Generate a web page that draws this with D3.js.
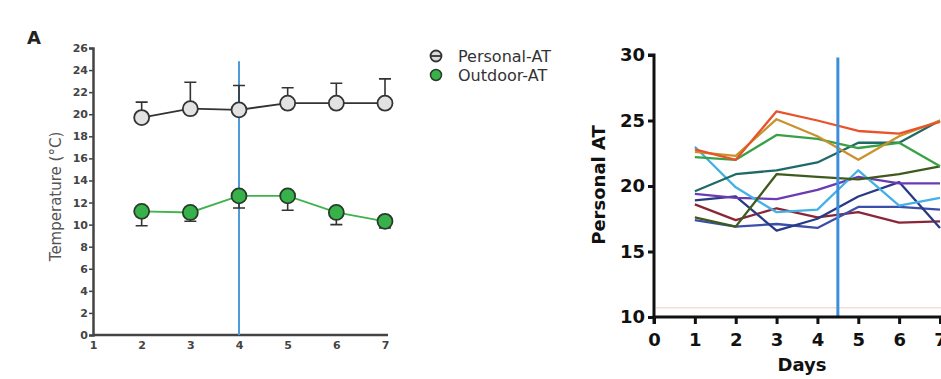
<!DOCTYPE html>
<html>
<head>
<meta charset="utf-8">
<script src="https://cdn.jsdelivr.net/npm/d3@7"></script>
<style>
  body { margin: 0; background: #fff; }
  svg { display: block; }
</style>
</head>
<body>
<div id="wrapper"></div>
<script>

/* 1. Data */
// panel A: daily means with one-sided error bars
const leftDays = [2, 3, 4, 5, 6, 7]
const personalMean = [19.7, 20.5, 20.4, 21.0, 21.0, 21.0]
const personalUpper = [21.1, 22.9, 22.6, 22.4, 22.8, 23.2]
const outdoorMean = [11.2, 11.1, 12.6, 12.6, 11.1, 10.3]
const outdoorLower = [9.9, 10.3, 11.5, 11.3, 10.0, 9.7]
const leftXTicks = [1, 2, 3, 4, 5, 6, 7]
const leftYTicks = [0, 2, 4, 6, 8, 10, 12, 14, 16, 18, 20, 22, 24, 26]
const legendLabels = ["Personal-AT", "Outdoor-AT"]

// right panel: personal AT per participant
const rightDays = [1, 2, 3, 4, 5, 6, 7]
const redLine    = [22.8, 22.0, 25.7, 25.0, 24.2, 24.0, 24.9]
const goldLine   = [22.6, 22.3, 25.1, 23.8, 22.0, 23.8, 25.0]
const greenLine  = [22.2, 22.0, 23.9, 23.6, 22.9, 23.3, 21.5]
const tealLine   = [19.6, 20.9, 21.2, 21.8, 23.3, 23.3, 25.0]
const oliveLine  = [17.6, 16.9, 20.9, 20.7, 20.5, 20.9, 21.5]
const skyLine    = [23.0, 19.9, 18.0, 18.2, 21.2, 18.5, 19.1]
const purpleLine = [19.4, 19.1, 19.0, 19.7, 20.7, 20.2, 20.2]
const navyLine   = [18.9, 19.2, 16.6, 17.5, 19.2, 20.3, 16.8]
const indigoLine = [17.4, 16.9, 17.1, 16.8, 18.4, 18.4, 18.2]
const maroonLine = [18.6, 17.4, 18.3, 17.6, 18.0, 17.2, 17.3]
const rightXTicks = [0, 1, 2, 3, 4, 5, 6, 7]
const rightYTicks = [10, 15, 20, 25, 30]

const participantSeries = [maroonLine, indigoLine, navyLine, purpleLine, skyLine,
    oliveLine, tealLine, greenLine, goldLine, redLine]
const participantColors = ["#8b2638", "#3b4fa8", "#283a86", "#6a3bb5", "#45b0e6",
    "#3f5a1c", "#1f6a66", "#3aa046", "#c9922c", "#e8532b"]

/* 2. Dimensions */
const width = 941
const height = 379

const wrapper = d3.select("#wrapper")
    .append("svg")
    .attr("width", width)
    .attr("height", height)

/* 3. Panel A */
const left = { x0: 93, x1: 385, y0: 335, y1: 48 }

const xLeft = d3.scaleLinear().domain([1, 7]).range([left.x0, left.x1])
const yLeft = d3.scaleLinear().domain([0, 26]).range([left.y0, left.y1])

wrapper.append("text")
    .attr("x", 27)
    .attr("y", 44)
    .style("font-family", "DejaVu Sans")
    .style("font-weight", "bold")
    .style("font-size", "18px")
    .attr("fill", "#222")
    .text("A")

const leftYAxis = wrapper.append("g")
    .attr("transform", `translate(${left.x0},0)`)
    .call(d3.axisLeft(yLeft).tickValues(leftYTicks).tickFormat(d3.format("d"))
        .tickSize(4).tickPadding(1))
const leftXAxis = wrapper.append("g")
    .attr("transform", `translate(0,${left.y0})`)
    .call(d3.axisBottom(xLeft).tickValues(leftXTicks).tickFormat(d3.format("d"))
        .tickSize(0).tickPadding(6))

;[leftYAxis, leftXAxis].forEach(ax => {
    ax.select(".domain").attr("stroke", "#444").attr("stroke-width", 2.5)
    ax.selectAll(".tick line").attr("stroke", "#444").attr("stroke-width", 1.5)
    ax.selectAll("text")
        .style("font-family", "DejaVu Sans")
        .style("font-weight", "bold")
        .style("font-size", "11px")
        .attr("fill", "#444")
})
leftXAxis.select(".domain").attr("d", `M${left.x0},0H${left.x1 + 3}`)

wrapper.append("text")
    .attr("transform", `translate(61,${(left.y0 + left.y1) / 2 + 5}) rotate(-90)`)
    .attr("text-anchor", "middle")
    .style("font-family", "DejaVu Sans")
    .style("font-size", "15px")
    .attr("fill", "#555")
    .text("Temperature (°C)")

// blue reference line at day 4
wrapper.append("line")
    .attr("x1", xLeft(4)).attr("x2", xLeft(4))
    .attr("y1", yLeft(24.8)).attr("y2", yLeft(0))
    .attr("stroke", "#4d9bdb")
    .attr("stroke-width", 2)

const leftData = leftDays.map((d, i) => ({
    day: d,
    pMean: personalMean[i], pUp: personalUpper[i],
    oMean: outdoorMean[i], oLow: outdoorLower[i],
}))

const capHalf = 6

// error bars
const errGroup = wrapper.append("g")
    .attr("stroke", "#333")
    .attr("stroke-width", 1.6)
errGroup.selectAll(".pErr")
    .data(leftData)
    .enter().append("path")
    .attr("fill", "none")
    .attr("d", d => `M${xLeft(d.day)},${yLeft(d.pMean)}V${yLeft(d.pUp)}`
        + `M${xLeft(d.day) - capHalf},${yLeft(d.pUp)}H${xLeft(d.day) + capHalf}`)
errGroup.selectAll(".oErr")
    .data(leftData)
    .enter().append("path")
    .attr("fill", "none")
    .attr("d", d => `M${xLeft(d.day)},${yLeft(d.oMean)}V${yLeft(d.oLow)}`
        + `M${xLeft(d.day) - capHalf},${yLeft(d.oLow)}H${xLeft(d.day) + capHalf}`)

const pLine = d3.line().x(d => xLeft(d.day)).y(d => yLeft(d.pMean))
const oLine = d3.line().x(d => xLeft(d.day)).y(d => yLeft(d.oMean))

wrapper.append("path")
    .datum(leftData)
    .attr("d", pLine)
    .attr("fill", "none")
    .attr("stroke", "#333")
    .attr("stroke-width", 1.8)
wrapper.append("path")
    .datum(leftData)
    .attr("d", oLine)
    .attr("fill", "none")
    .attr("stroke", "#3fb34c")
    .attr("stroke-width", 1.8)

wrapper.selectAll(".pDot")
    .data(leftData)
    .enter().append("circle")
    .attr("cx", d => xLeft(d.day))
    .attr("cy", d => yLeft(d.pMean))
    .attr("r", 7.5)
    .attr("fill", "#e2e2e2")
    .attr("stroke", "#333")
    .attr("stroke-width", 1.8)
wrapper.selectAll(".oDot")
    .data(leftData)
    .enter().append("circle")
    .attr("cx", d => xLeft(d.day))
    .attr("cy", d => yLeft(d.oMean))
    .attr("r", 7.5)
    .attr("fill", "#37b24a")
    .attr("stroke", "#2b3b2b")
    .attr("stroke-width", 1.8)

// legend
const legendGap = 19
const legend = wrapper.append("g").attr("transform", "translate(436,56)")
legend.append("circle").attr("r", 5.5).attr("fill", "#ddd")
    .attr("stroke", "#333").attr("stroke-width", 1.8)
legend.append("line").attr("x1", -5.5).attr("x2", 5.5)
    .attr("stroke", "#333").attr("stroke-width", 1.8)
legend.append("circle").attr("cy", legendGap).attr("r", 5.5).attr("fill", "#37b24a")
    .attr("stroke", "#2b3b2b").attr("stroke-width", 1.5)
legend.selectAll("text")
    .data(legendLabels)
    .enter().append("text")
    .attr("x", 22)
    .attr("y", (d, i) => i * legendGap + 6)
    .style("font-family", "DejaVu Sans")
    .style("font-size", "16px")
    .attr("fill", "#333")
    .text(d => d)

/* 4. Right panel */
const right = { x0: 654, x1: 940, y0: 317, y1: 55 }

const xRight = d3.scaleLinear().domain([0, 7]).range([right.x0, right.x1])
const yRight = d3.scaleLinear().domain([10, 30]).range([right.y0, right.y1])

// faint baseline guide
wrapper.append("line")
    .attr("x1", right.x0 + 2).attr("x2", width)
    .attr("y1", yRight(10.7)).attr("y2", yRight(10.7))
    .attr("stroke", "#f0c8c0")
    .attr("stroke-width", 1)

const lineGen = d3.line()
    .x((d, i) => xRight(rightDays[i]))
    .y(d => yRight(d))

wrapper.selectAll(".participant")
    .data(participantSeries)
    .enter().append("path")
    .attr("class", "participant")
    .attr("d", lineGen)
    .attr("fill", "none")
    .attr("stroke", (d, i) => participantColors[i])
    .attr("stroke-width", 2.3)
    .attr("stroke-linejoin", "round")

wrapper.append("line")
    .attr("x1", xRight(4.5)).attr("x2", xRight(4.5))
    .attr("y1", yRight(29.8)).attr("y2", yRight(10))
    .attr("stroke", "#3d8ed8")
    .attr("stroke-width", 3)

const rightYAxis = wrapper.append("g")
    .attr("transform", `translate(${right.x0},0)`)
    .call(d3.axisLeft(yRight).tickValues(rightYTicks).tickFormat(d3.format("d"))
        .tickSize(6).tickPadding(3))
const rightXAxis = wrapper.append("g")
    .attr("transform", `translate(0,${right.y0})`)
    .call(d3.axisBottom(xRight).tickValues(rightXTicks).tickFormat(d3.format("d"))
        .tickSize(7).tickPadding(9))

;[rightYAxis, rightXAxis].forEach(ax => {
    ax.select(".domain").attr("stroke", "#111").attr("stroke-width", 3)
    ax.selectAll(".tick line").attr("stroke", "#111").attr("stroke-width", 3)
    ax.selectAll("text")
        .style("font-family", "DejaVu Sans")
        .style("font-weight", "bold")
        .style("font-size", "18px")
        .attr("fill", "#111")
})
rightYAxis.select(".domain").attr("d", `M-6,${right.y1}H0V${right.y0}`)
rightXAxis.select(".domain").attr("d", `M${right.x0},7V0H${width}`)

wrapper.append("text")
    .attr("x", (right.x0 + right.x1) / 2 + 5)
    .attr("y", 371)
    .attr("text-anchor", "middle")
    .style("font-family", "DejaVu Sans")
    .style("font-weight", "bold")
    .style("font-size", "18px")
    .attr("fill", "#111")
    .text("Days")

wrapper.append("text")
    .attr("transform", `translate(605,${(right.y0 + right.y1) / 2 - 1}) rotate(-90)`)
    .attr("text-anchor", "middle")
    .style("font-family", "DejaVu Sans")
    .style("font-weight", "bold")
    .style("font-size", "18px")
    .attr("fill", "#111")
    .text("Personal AT")

</script>
</body>
</html>
